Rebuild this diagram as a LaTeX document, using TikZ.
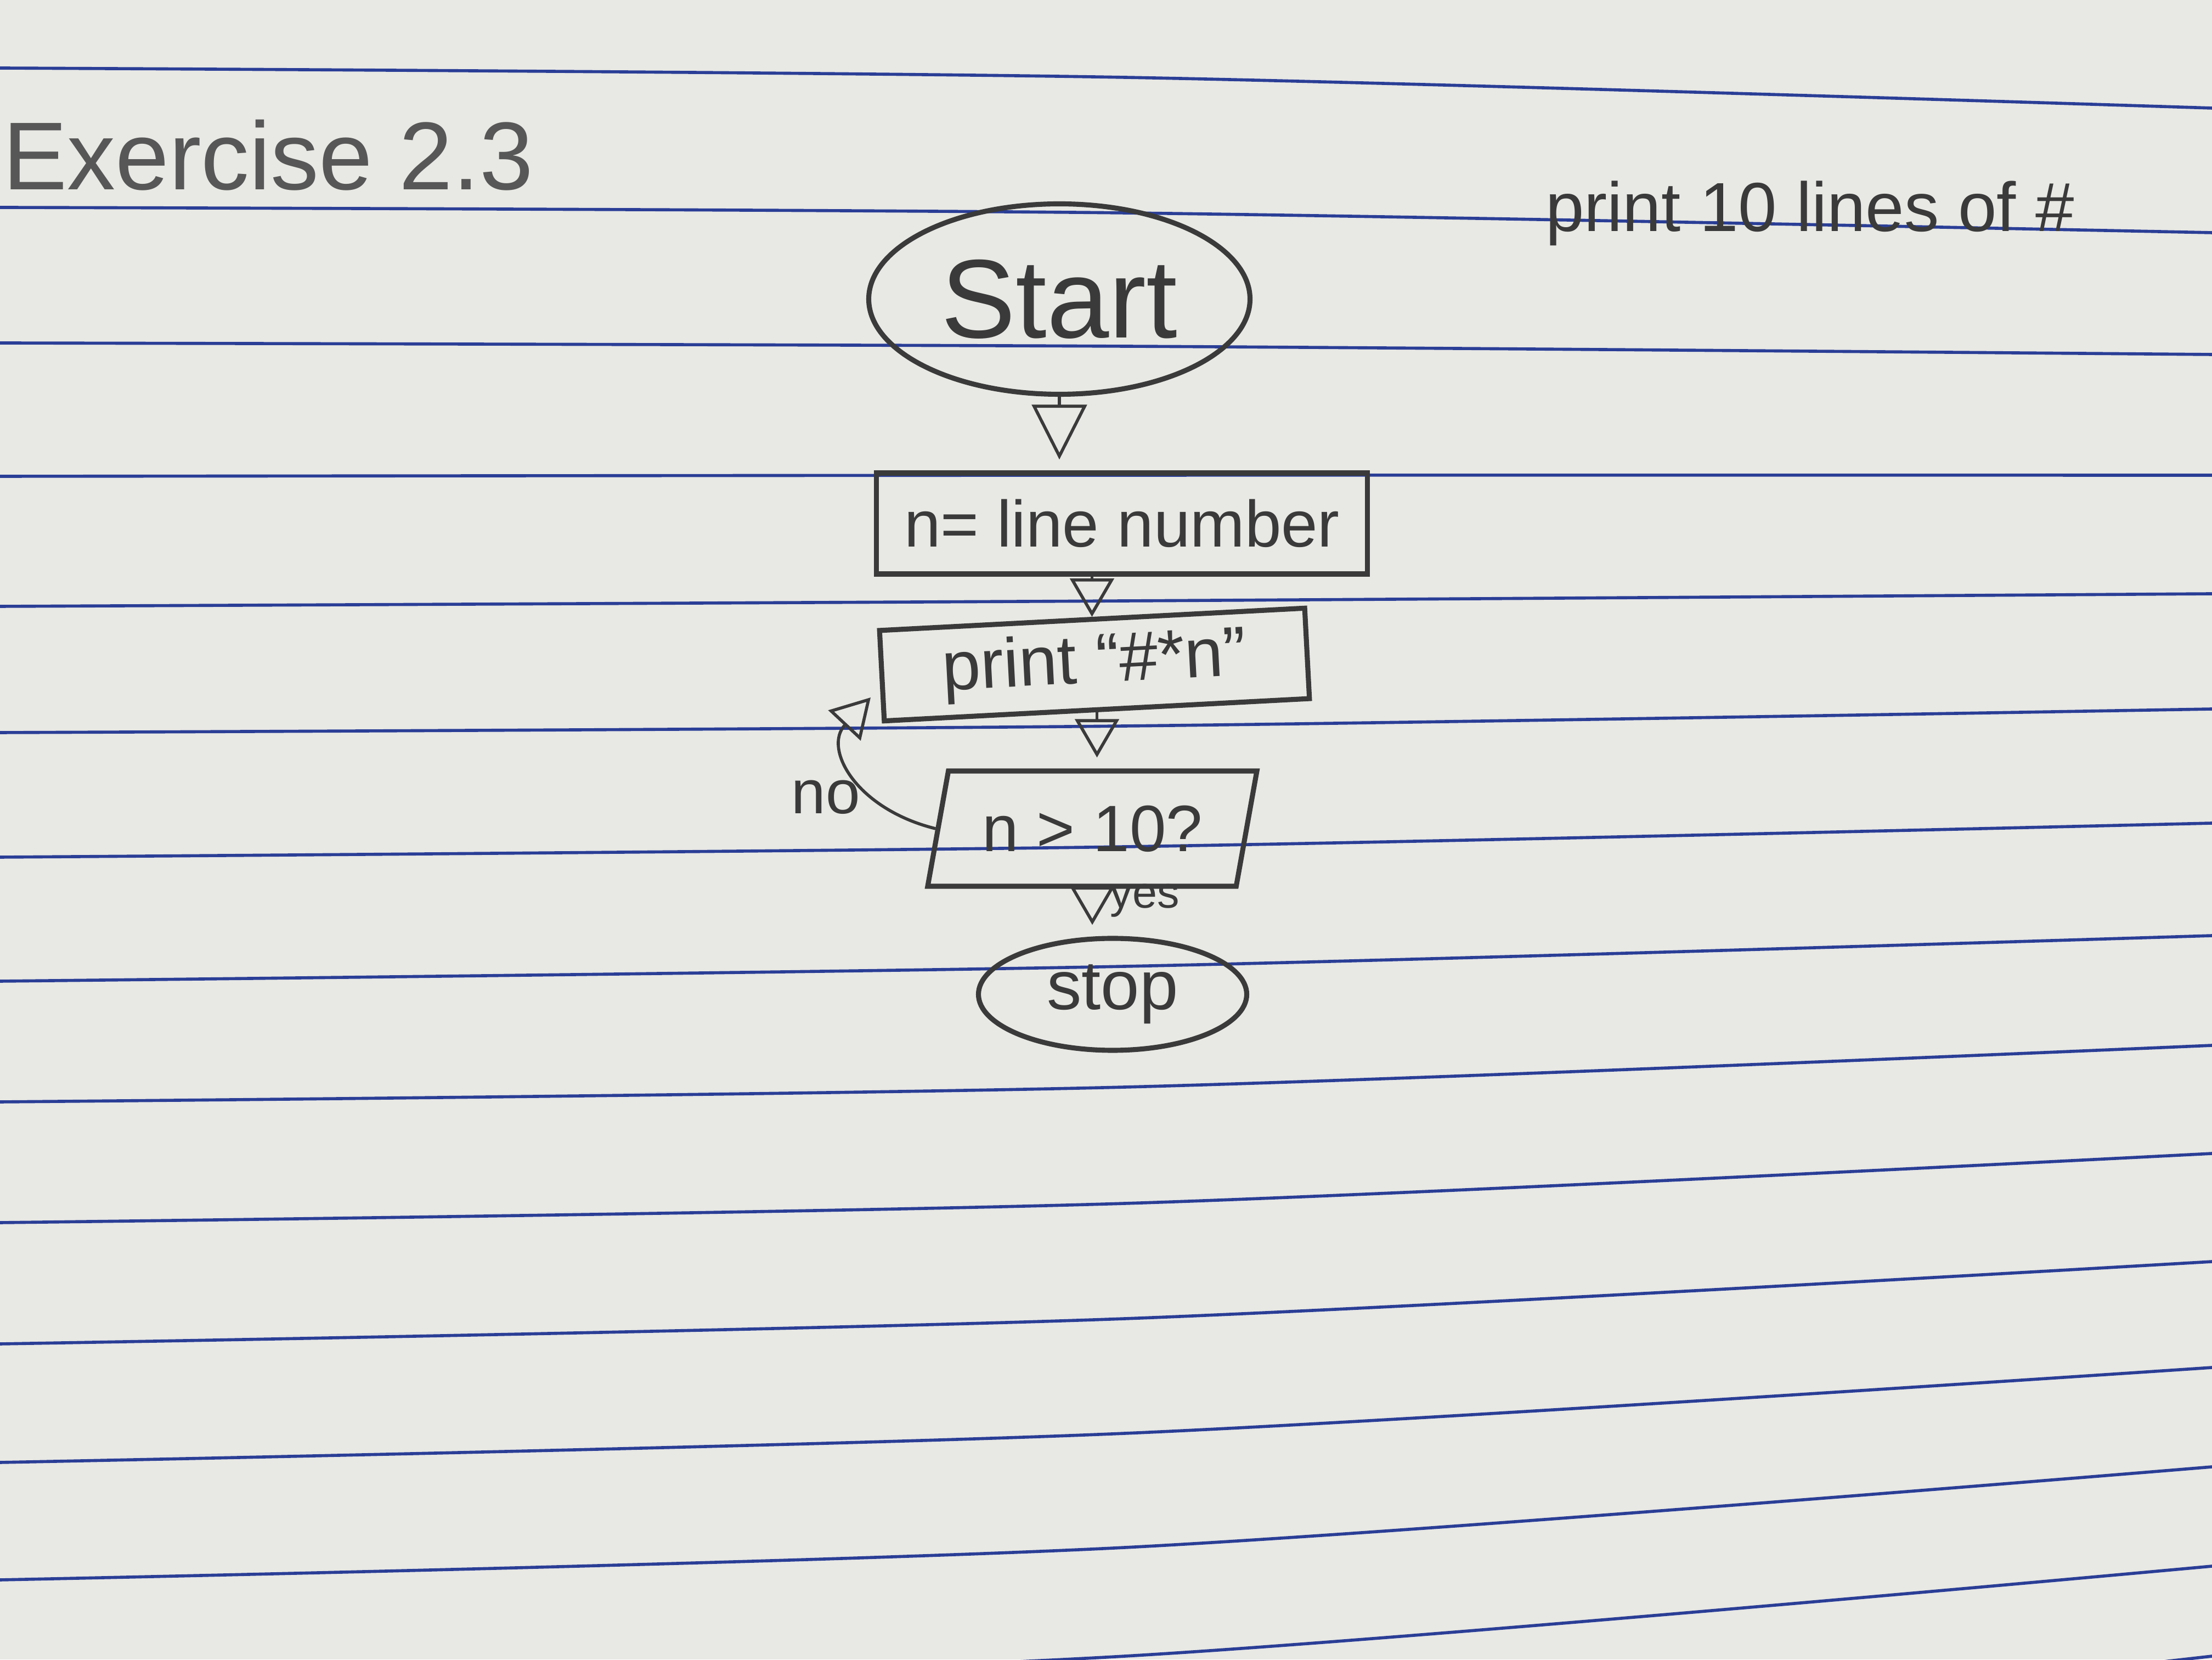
\documentclass[tikz,border=0pt]{standalone}
\usepackage{fontspec}
\setmainfont{Liberation Sans}
\usetikzlibrary{shapes.geometric,arrows.meta}
\definecolor{paper}{RGB}{232,232,228}
\definecolor{ruling}{RGB}{42,62,150}
\definecolor{pencil}{RGB}{58,58,58}

\begin{document}
\begin{tikzpicture}
    \tikzstyle{ruled} = [ruling, line width=1.6pt]
    \tikzstyle{pen} = [draw=pencil, line width=2.6pt, text=pencil, inner sep=0pt]
    \tikzstyle{oval} = [pen, ellipse]
    \tikzstyle{stepbox} = [pen, rectangle]
    \tikzstyle{ask} = [pen, trapezium, trapezium left angle=66, trapezium right angle=114, trapezium stretches body]
    \tikzstyle{flow} = [draw=pencil, line width=1.6pt, -{Triangle[open, length=7mm, width=8mm]}]
    \tikzstyle{hand} = [text=pencil, inner sep=0pt]
    \fill[paper] (0,0) rectangle (40.32,30.24);
    \useasboundingbox (0,0) rectangle (40.32,30.24);
    \foreach \l/\m/\r in {29.00/28.83/28.27, 26.46/26.36/26.00, 23.99/23.93/23.78,
        21.56/21.58/21.58, 19.19/19.29/19.42, 16.89/17.01/17.32, 14.62/14.81/15.24,
        12.36/12.63/13.19, 10.16/10.43/11.19, 7.96/8.31/9.22, 5.75/6.21/7.25,
        3.59/4.12/5.32, 1.45/2.04/3.51, -0.66/0.06/1.70, -2.76/-1.96/0.06}
      \draw[ruled] plot[smooth] coordinates {(0,\l) (20.5,\m) (40.32,\r)};
    \node[hand, text=pencil!85, font=\fontsize{50}{60}\selectfont] (title) at (4.89,27.41) {Exercise 2.3};
    \node[hand, font=\fontsize{36}{42}\selectfont] (task) at (32.99,26.35) {print 10 lines of \#};
    \node[oval, minimum width=6.95cm, minimum height=3.47cm, font=\fontsize{58}{66}\selectfont] (start) at (19.31,24.79) {Start};
    \node[stepbox, minimum width=8.95cm, minimum height=1.84cm, font=\fontsize{34}{40}\selectfont] (num) at (20.45,20.70) {n= line number};
    \node[stepbox, rotate=3, minimum width=7.76cm, minimum height=1.65cm, font=\fontsize{36}{42}\selectfont] (print) at (19.95,18.13) {print ``\#*n''};
    \node[ask, minimum width=6.0cm, minimum height=2.1cm, font=\fontsize{34}{40}\selectfont] (dec) at (19.91,15.14) {n > 10?};
    \node[oval, minimum width=4.89cm, minimum height=2.04cm, font=\fontsize{36}{42}\selectfont] (stop) at (20.28,12.12) {stop};
    \coordinate (back) at (15.87,17.53);
    \draw[flow, -{Triangle[open, length=10mm, width=10mm]}, shorten >=2mm] (start.south) -- (start.south |- num.north);
    \draw[flow] (print.north |- num.south) -- (print.north);
    \draw[flow, shorten >=2mm] (print.south) -- (print.south |- dec.north);
    \draw[flow, shorten >=2mm] (dec.south) -- node[hand, right=3mm, pos=0.25, font=\fontsize{23}{28}\selectfont] {yes} (dec.south |- stop.north);
    \draw[flow] (dec.west) .. controls (15.6,15.5) and (15.0,16.6) .. (back);
    \node[hand, font=\fontsize{32}{38}\selectfont] (no) at (15.05,15.71) {no};
\end{tikzpicture}
\end{document}
